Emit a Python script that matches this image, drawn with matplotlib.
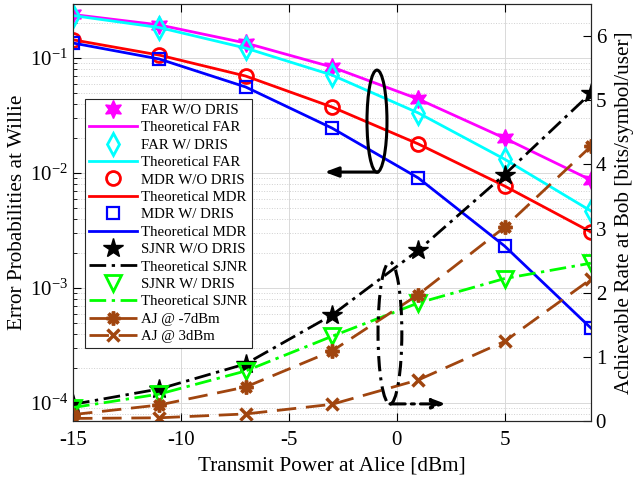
import matplotlib
matplotlib.use("Agg")
import matplotlib.pyplot as plt
from matplotlib.patches import Ellipse

plt.rcParams['font.family'] = ['Liberation Serif', 'DejaVu Serif']
plt.rcParams['mathtext.fontset'] = 'custom'
plt.rcParams['mathtext.rm'] = 'Liberation Serif'
plt.rcParams['mathtext.it'] = 'Liberation Serif:italic'
plt.rcParams['axes.unicode_minus'] = False

# transmit power at Alice [dBm]
power = [-15, -11, -7, -3, 1, 5, 9]

# error probabilities at Willie (left axis)
far_wo = [0.239, 0.194, 0.135, 0.0835, 0.0440, 0.0201, 0.00869]
far_w = [0.234, 0.184, 0.122, 0.0711, 0.0333, 0.0132, 0.00468]
mdr_wo = [0.144, 0.106, 0.0697, 0.0375, 0.0179, 0.00771, 0.00307]
mdr_w = [0.135, 0.098, 0.056, 0.0246, 0.00906, 0.00232, 0.000449]

# achievable rate at Bob (right axis)
sjnr_wo = [0.26, 0.50, 0.89, 1.65, 2.66, 3.84, 5.11]
sjnr_w = [0.21, 0.42, 0.78, 1.32, 1.84, 2.22, 2.46]
aj_m7 = [0.10, 0.25, 0.53, 1.09, 1.97, 3.02, 4.28]
aj_3 = [0.04, 0.05, 0.11, 0.26, 0.64, 1.24, 2.21]

brown = '#A0450F'
hexagram = (6, 1, 0)
asterisk = (8, 2, 0)
lw = 2.0
ms = 10
dashdot = (6, 2, 1.2, 2)
dashed = (7, 3.5)

fig = plt.figure(figsize=(6.36, 4.8), dpi=100)
ax1 = fig.add_axes([0.1148, 0.1229, 0.8142, 0.8688])
ax2 = ax1.twinx()

ax1.set_yscale('log')
ax1.set_xlim(-15, 9)
ax1.set_ylim(6.97e-5, 0.295)
ax2.set_ylim(0, 6.5)
ax2.set_yticks([0, 1, 2, 3, 4, 5, 6])
ax1.set_xticks([-15, -10, -5, 0, 5])

ax1.grid(True, which='major', color='#d9d9d9', lw=0.7, ls='-')
ax1.grid(True, which='minor', axis='y', color='#d0d0d0', lw=0.7, ls=':')
ax1.tick_params(which='both', direction='in', top=True, labelsize=15)
ax1.tick_params(axis='x', pad=7)
ax1.tick_params(which='major', length=6)
ax1.tick_params(which='minor', length=3)
ax2.tick_params(direction='in', labelsize=15, length=6)
for sp in list(ax1.spines.values()) + list(ax2.spines.values()):
    sp.set_color('#262626')
    sp.set_linewidth(0.8)

h = []
h += ax1.plot(power, far_wo, ls='none', marker=hexagram, ms=ms + 3, color='#FF00FF', label='FAR W/O DRIS')
h += ax1.plot(power, far_wo, '-', lw=lw, color='#FF00FF', label='Theoretical FAR')
h += ax1.plot(power, far_w, ls='none', marker='d', ms=ms + 1, mfc='none', mew=lw, color='#00FFFF', label='FAR W/ DRIS')
h += ax1.plot(power, far_w, '-', lw=lw, color='#00FFFF', label='Theoretical FAR')
h += ax1.plot(power, mdr_wo, ls='none', marker='o', ms=ms, mfc='none', mew=lw, color='#FF0000', label='MDR W/O DRIS')
h += ax1.plot(power, mdr_wo, '-', lw=lw, color='#FF0000', label='Theoretical MDR')
h += ax1.plot(power, mdr_w, ls='none', marker='s', ms=ms - 2, mfc='none', mew=1.6, color='#0000FF', label='MDR W/ DRIS')
h += ax1.plot(power, mdr_w, '-', lw=lw, color='#0000FF', label='Theoretical MDR')

h += ax2.plot(power, sjnr_wo, ls='none', marker='*', ms=ms + 5, color='black', label='SJNR W/O DRIS')
h += ax2.plot(power, sjnr_wo, lw=lw, color='black', dashes=dashdot, label='Theoretical SJNR')
h += ax2.plot(power, sjnr_w, ls='none', marker='v', ms=ms + 1, mfc='none', mew=lw, color='#00FF00', label='SJNR W/ DRIS')
h += ax2.plot(power, sjnr_w, lw=lw, color='#00FF00', dashes=dashdot, label='Theoretical SJNR')
h += ax2.plot(power, aj_m7, lw=lw, color=brown, dashes=dashed, marker=asterisk, ms=ms, mew=2.5, label='AJ @ -7dBm')
h += ax2.plot(power, aj_3, lw=lw, color=brown, dashes=dashed, marker='x', ms=ms - 2, mew=2.5, label='AJ @ 3dBm')

# ellipses with arrows pointing to the matching axis
ax2.add_patch(Ellipse((0.587, 0.719), 0.0386, 0.245, transform=ax2.transAxes,
                      fill=False, ec='black', lw=2.2, zorder=5))
ax2.annotate('', xy=(0.486, 0.597), xytext=(0.589, 0.597), xycoords='axes fraction',
             arrowprops=dict(arrowstyle='-|>,head_length=0.8,head_width=0.3', color='black', lw=2.2,
                             shrinkA=0, shrinkB=0), zorder=5)
ax2.add_patch(Ellipse((0.612, 0.211), 0.046, 0.341, transform=ax2.transAxes,
                      fill=False, ec='black', lw=2.2, ls=(0, (5, 2, 1, 2)), zorder=5))
ax2.annotate('', xy=(0.72, 0.041), xytext=(0.612, 0.041), xycoords='axes fraction',
             arrowprops=dict(arrowstyle='-|>,head_length=0.8,head_width=0.3', color='black', lw=2.2,
                             ls=(0, (5, 2, 1, 2)), shrinkA=0, shrinkB=0), zorder=5)

leg = ax2.legend(handles=h, loc='upper left', bbox_to_anchor=(0.023, 0.772), fontsize=10.7,
                 frameon=True, fancybox=False, framealpha=1, edgecolor='#262626',
                 handlelength=3.2, handletextpad=0.3, labelspacing=0.27, borderpad=0.3,
                 borderaxespad=0)
leg.get_frame().set_linewidth(0.8)
leg.set_zorder(10)

ax1.set_xlabel('Transmit Power at Alice [dBm]', fontsize=15.3, labelpad=5)
ax1.set_ylabel('Error Probabilities at Willie', fontsize=15.3, labelpad=2)
ax2.set_ylabel('Achievable Rate at Bob [bits/symbol/user]', fontsize=15.3, labelpad=6)

fig.savefig('out.png', dpi=100)
